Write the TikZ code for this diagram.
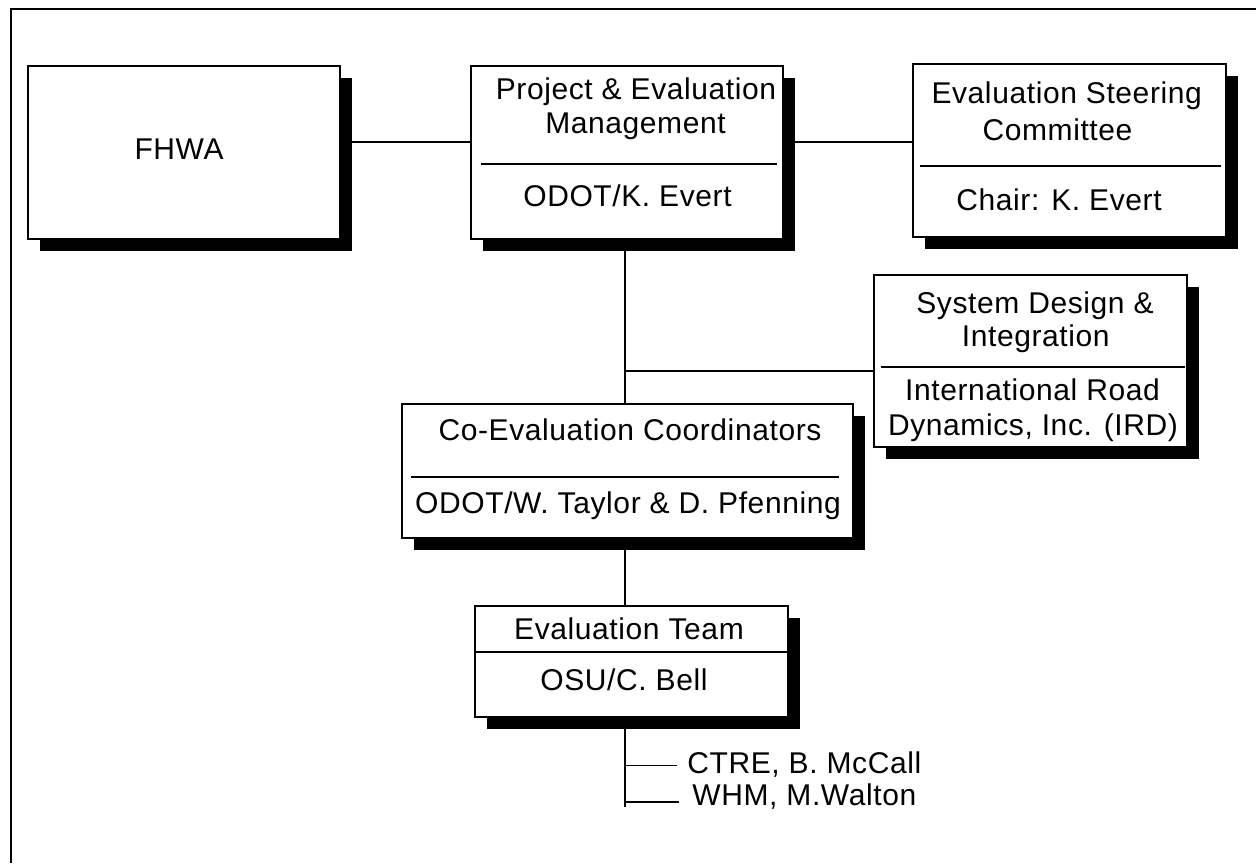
\documentclass[tikz,border=0pt]{standalone}
\usepackage{fontspec}
\setmainfont{Liberation Sans}[LetterSpace=2]
\usetikzlibrary{shadows}
\begin{document}
\begin{tikzpicture}[x=0.5pt,y=-0.5pt,
  box/.style={draw=black,line width=0.9pt,fill=white,inner sep=0pt,
    drop shadow={shadow xshift=6pt,shadow yshift=-6pt,opacity=1,fill=black}},
  lbl/.style={inner sep=0pt,anchor=base,font=\fontsize{15}{17}\selectfont},
  lbw/.style={inner sep=0pt,anchor=base west,font=\fontsize{15}{17}\selectfont},
  conn/.style={line width=0.8pt},
  divider/.style={line width=0.8pt}]
\useasboundingbox (0,0) rectangle (1256,863);
% frame
\draw[line width=1pt] (11,863) -- (11,9) -- (1256,9);
% boxes
\node[box,minimum width=156pt,minimum height=86.5pt] (fhwa) at (184,152.5) {};
\node[box,minimum width=156pt,minimum height=86.5pt] (pem) at (627,152.5) {};
\node[box,minimum width=156.5pt,minimum height=86.5pt] (esc) at (1069.5,150.5) {};
\node[box,minimum width=156.5pt,minimum height=86pt] (sd) at (1030.5,361) {};
\node[box,minimum width=225.5pt,minimum height=67pt] (cec) at (627.5,471) {};
\node[box,minimum width=156.5pt,minimum height=55.5pt] (et) at (631.5,661.5) {};
% dividers
\draw[divider] (481,164) -- (777,164);
\draw[divider] (920,166) -- (1221,166);
\draw[divider] (881,367) -- (1185,367);
\draw[divider] (411,477) -- (839,477);
\draw[divider] (et.west |- 0,652) -- (et.east |- 0,652);
% texts
\node[lbl] (fhwat) at (179,159.3) {FHWA};
\node[lbl] (pem1) at (636,99.3) {Project \& Evaluation};
\node[lbl] (pem2) at (635.5,133.3) {Management};
\node[lbl] (pem3) at (627.5,206.7) {ODOT/K. Evert};
\node[lbl] (esc1) at (1066.7,103.3) {Evaluation Steering};
\node[lbl] (esc2) at (1057.5,140) {Committee};
\node[lbl] (esc3) at (1059,210) {Chair: K. Evert};
\node[lbl] (sd1) at (1035,313.3) {System Design \&};
\node[lbl] (sd2) at (1035.8,346.7) {Integration};
\node[lbl] (sd3) at (1032.5,400) {International Road};
\node[lbl] (sd4) at (1033,435) {Dynamics, Inc. (IRD)};
\node[lbl] (cec1) at (630,440.7) {Co-Evaluation Coordinators};
\node[lbl] (cec2) at (628,513.3) {ODOT/W. Taylor \& D. Pfenning};
\node[lbl] (et1) at (629,639.3) {Evaluation Team};
\node[lbl] (et2) at (624,690.7) {OSU/C. Bell};
\node[lbw] (ctre) at (687,773.3) {CTRE, B. McCall};
\node[lbw] (whm) at (692,805) {WHM, M.Walton};
% connectors
\coordinate (tx) at (625,0);
\draw[conn] ([yshift=5.4pt]fhwa.east) -- ([yshift=5.4pt]pem.west);
\draw[conn] ([yshift=5.4pt]pem.east) coordinate (pe) -- (pe -| esc.west);
\draw[conn] (tx |- pem.south) -- (tx |- cec.north);
\draw[conn] ([yshift=-4.85pt]sd.west) coordinate (sdj) -- (sdj -| tx);
\draw[conn] (tx |- cec.south) -- (tx |- et.north);
\coordinate (bot) at (625,806.7);
\draw[conn] (tx |- et.south) -- (bot);
\draw[conn] (tx |- 0,765.5) -- ([xshift=-5pt]ctre.west |- 0,765.5);
\draw[conn] (tx |- 0,802) -- ([xshift=-6.5pt]whm.west |- 0,802);
\end{tikzpicture}
\end{document}
